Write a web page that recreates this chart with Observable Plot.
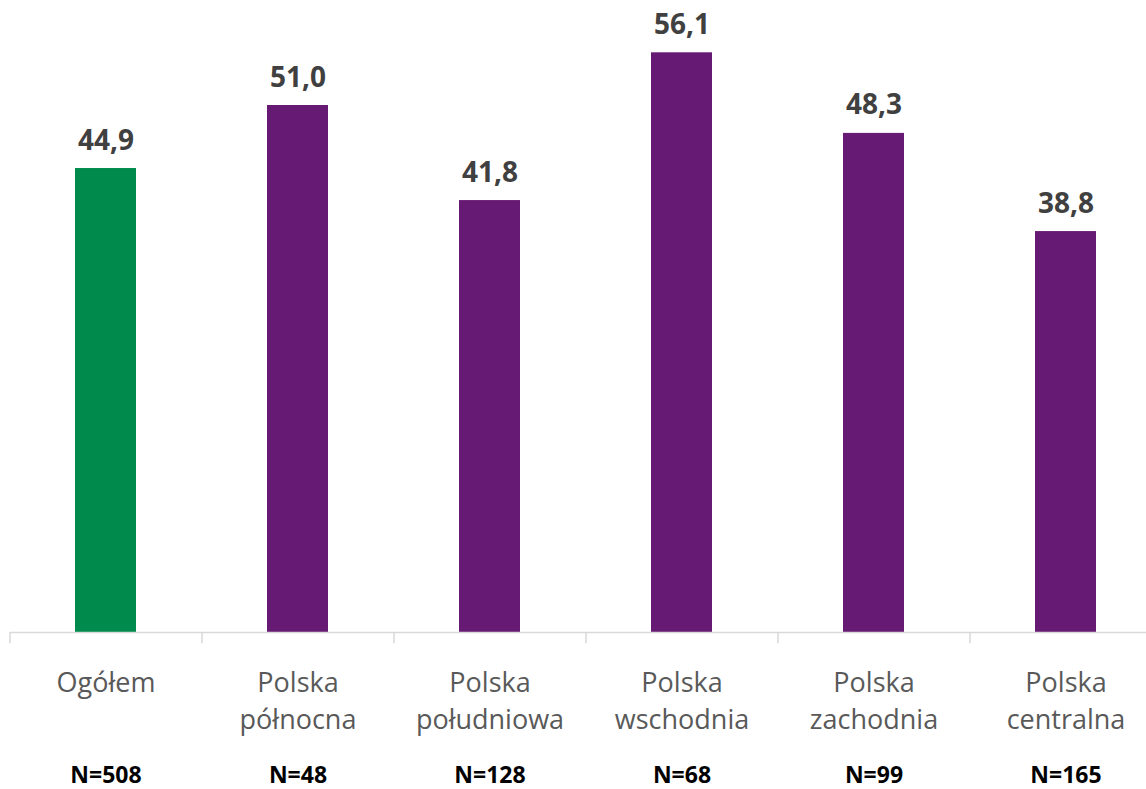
<!DOCTYPE html>
<html>
<head>
<meta charset="utf-8">
<script src="https://cdn.jsdelivr.net/npm/d3@7"></script>
<script src="https://cdn.jsdelivr.net/npm/@observablehq/plot@0.6"></script>
<style>
  html, body { margin: 0; padding: 0; background: #fff; overflow: hidden; }
</style>
</head>
<body>
<div id="chart"></div>
<script>
const categories = ["Ogółem", "Polska\npółnocna", "Polska\npołudniowa", "Polska\nwschodnia", "Polska\nzachodnia", "Polska\ncentralna"];
const values = [44.9, 51.0, 41.8, 56.1, 48.3, 38.8];
const sampleSizes = ["N=508", "N=48", "N=128", "N=68", "N=99", "N=165"];
const barColors = ["#008A4B", "#671A73", "#671A73", "#671A73", "#671A73", "#671A73"];

const data = categories.map((c, i) => ({cat: c, value: values[i], n: sampleSizes[i], color: barColors[i]}));
const nByCat = new Map(data.map(d => [d.cat, d.n]));

const W = 1146, H = 789;
const xRange = [10, 1162];
const band = (xRange[1] - xRange[0]) / categories.length;

const chart = Plot.plot({
  width: W,
  height: H,
  marginTop: 12,
  marginBottom: 157,
  marginLeft: 10,
  marginRight: 0,
  style: {fontFamily: "'Open Sans', sans-serif", background: "#fff"},
  x: {domain: categories, range: xRange, paddingInner: 0.68, paddingOuter: 0.34, align: 0.5, axis: null, label: null},
  y: {domain: [0, 60], axis: null},
  marks: [
    Plot.barY(data, {x: "cat", y: "value", fill: "color"}),
    Plot.ruleY([0], {stroke: "#d9d9d9", strokeWidth: 1.5}),
    Plot.ruleX(categories, {x: d => d, y1: 0, y2: -1.08, dx: -band / 2, stroke: "#d9d9d9", strokeWidth: 1.5}),
    Plot.text(data, {
      x: "cat", y: "value", text: d => d.value.toFixed(1).replace(".", ","),
      lineAnchor: "bottom", dy: -19, fontSize: 28, fontWeight: "bold", fill: "#404040"
    }),
    Plot.axisX({
      label: null, tickSize: 0, tickPadding: 33, fontSize: 27, fill: "#595959", lineHeight: 1.38
    }),
    Plot.axisX({
      label: null, tickSize: 0, tickPadding: 134, fontSize: 23, fontWeight: "bold", fill: "#000",
      tickFormat: d => nByCat.get(d)
    })
  ]
});
document.getElementById("chart").appendChild(chart);
</script>
</body>
</html>
